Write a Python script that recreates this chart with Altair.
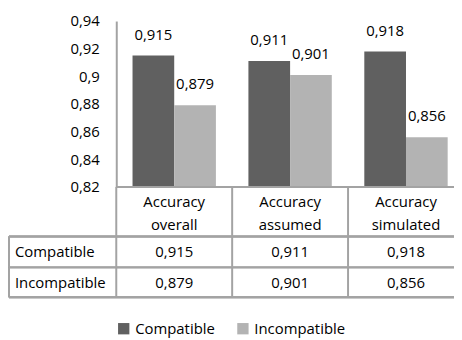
import altair as alt
import pandas as pd

categories = ["Accuracy overall", "Accuracy assumed", "Accuracy simulated"]
series = ["Compatible", "Incompatible"]
compatible = [0.915, 0.911, 0.918]
incompatible = [0.879, 0.901, 0.856]
y_ticks = [0.82, 0.84, 0.86, 0.88, 0.90, 0.92, 0.94]
colors = ["#606060", "#b3b3b3"]

rows = []
for s, vals in zip(series, [compatible, incompatible]):
    for c, v in zip(categories, vals):
        rows.append({"category": c, "series": s, "value": v,
                     "label": f"{v:.3f}".replace(".", ",")})
df = pd.DataFrame(rows)
cat_df = pd.DataFrame({"category": categories})

FONT = "Open Sans"
FS = 15
LINE = "#a3a3a3"
LW = 2

xscale = alt.Scale(domain=categories, range=[0, 350], paddingInner=0, paddingOuter=0)
x_enc = alt.X("category:N", scale=xscale, axis=None, sort=categories)
xo_enc = alt.XOffset("series:N", scale=alt.Scale(domain=series, paddingInner=0, paddingOuter=0.39))
y_enc = alt.Y("value:Q", scale=alt.Scale(domain=[0.82, 0.94], zero=False, nice=False),
              axis=alt.Axis(title=None, values=y_ticks, ticks=False, grid=False,
                            labelExpr="replace(format(datum.value, '.2~f'), '.', ',')",
                            domainColor=LINE, domainWidth=LW, labelFontSize=FS,
                            labelFont=FONT, labelColor="#000000", labelPadding=17))

base = alt.Chart(df)

bars = base.mark_bar().encode(
    x=x_enc, xOffset=xo_enc, y=y_enc, y2=alt.datum(0.82),
    color=alt.Color("series:N", scale=alt.Scale(domain=series, range=colors),
                    legend=alt.Legend(title=None, orient="none", legendX=0, legendY=302,
                                      direction="horizontal", symbolType="square",
                                      symbolSize=130, symbolStrokeWidth=0,
                                      labelFontSize=FS, labelFont=FONT, labelColor="#000000",
                                      columnPadding=20, symbolOffset=0, labelOffset=4)),
)

bar_labels = base.mark_text(font=FONT, fontSize=FS, color="#000000", baseline="alphabetic", dy=-16).encode(
    x=x_enc, xOffset=xo_enc, y=y_enc, text="label:N"
)

# table: vertical column separators
vrules = alt.Chart(cat_df).mark_rule(color=LINE, strokeWidth=LW).encode(
    x=alt.X("category:N", scale=xscale, axis=None, sort=categories, bandPosition=0),
    y=alt.value(167), y2=alt.value(278),
)
left_rule = alt.Chart(cat_df).mark_rule(color=LINE, strokeWidth=LW).encode(
    x=alt.value(-108), y=alt.value(217), y2=alt.value(278)
)
hr = []
for yy, x0 in [(167, 0), (217, -108), (248, -108), (278, -108)]:
    hr.append(alt.Chart(cat_df).mark_rule(color=LINE, strokeWidth=LW).encode(
        x=alt.value(x0), x2=alt.value(360), y=alt.value(yy)))

cat_text = alt.Chart(cat_df).mark_text(font=FONT, fontSize=FS, color="#000000",
                                       lineBreak=" ", lineHeight=23, baseline="middle").encode(
    x=alt.X("category:N", scale=xscale, axis=None, sort=categories),
    y=alt.value(182), text="category:N"
)

row_y = {"Compatible": 233, "Incompatible": 264}
row_layers = []
for s in series:
    row_layers.append(base.transform_filter(alt.datum.series == s).mark_text(
        font=FONT, fontSize=FS, color="#000000", baseline="middle").encode(
        x=x_enc, y=alt.value(row_y[s]), text="label:N"))
    row_layers.append(alt.Chart(pd.DataFrame({"series": [s]})).mark_text(
        font=FONT, fontSize=FS, color="#000000", baseline="middle", align="left").encode(
        x=alt.value(-102), y=alt.value(row_y[s]), text="series:N"))

chart = alt.layer(bars, bar_labels, vrules, left_rule, *hr, cat_text, *row_layers).properties(
    width=340, height=167,
    autosize=alt.AutoSizeParams(type="none"),
    padding={"left": 109, "top": 12, "right": 0, "bottom": 153},
).configure_view(stroke=None)

chart.save("out.html", embed_options={"renderer": "svg", "actions": False})
